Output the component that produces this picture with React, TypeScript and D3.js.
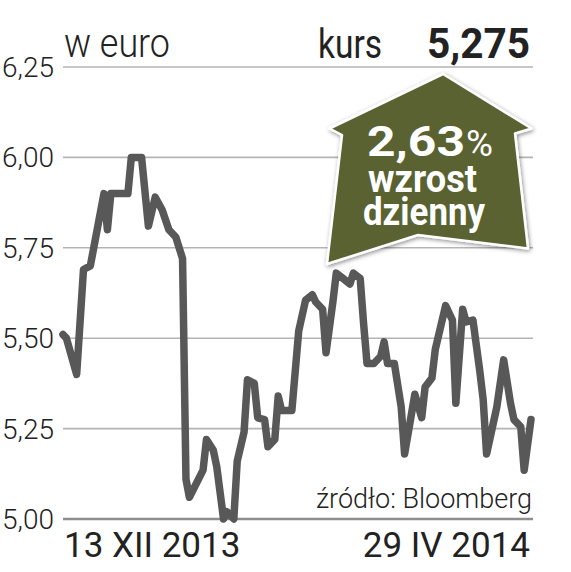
import React from "react";
import * as d3 from "d3";

const dates = ["2013-12-13","2013-12-14","2013-12-17","2013-12-19","2013-12-21","2013-12-25","2013-12-26","2013-12-27","2014-01-01","2014-01-02","2014-01-05","2014-01-07","2014-01-09","2014-01-11","2014-01-13","2014-01-15","2014-01-17","2014-01-18","2014-01-19","2014-01-23","2014-01-24","2014-01-26","2014-01-27","2014-01-29","2014-01-30","2014-02-01","2014-02-02","2014-02-04","2014-02-05","2014-02-07","2014-02-08","2014-02-10","2014-02-11","2014-02-13","2014-02-14","2014-02-15","2014-02-18","2014-02-20","2014-02-22","2014-02-24","2014-02-25","2014-02-27","2014-02-28","2014-03-02","2014-03-03","2014-03-05","2014-03-07","2014-03-08","2014-03-10","2014-03-11","2014-03-12","2014-03-14","2014-03-16","2014-03-17","2014-03-18","2014-03-20","2014-03-22","2014-03-23","2014-03-26","2014-03-28","2014-03-29","2014-03-31","2014-04-01","2014-04-04","2014-04-06","2014-04-07","2014-04-09","2014-04-10","2014-04-12","2014-04-14","2014-04-15","2014-04-16","2014-04-19","2014-04-21","2014-04-23","2014-04-24","2014-04-26","2014-04-27","2014-04-29"];

const prices = [5.51,5.50,5.40,5.69,5.70,5.90,5.80,5.90,5.90,6.00,
6.00,5.81,5.89,5.855,5.80,5.78,5.72,5.11,5.06,5.135,
5.22,5.19,5.145,5.00,5.02,5.00,5.16,5.24,5.385,5.375,
5.28,5.275,5.20,5.22,5.34,5.30,5.30,5.52,5.605,5.62,
5.60,5.58,5.46,5.60,5.68,5.665,5.65,5.68,5.665,5.54,
5.43,5.43,5.45,5.49,5.43,5.43,5.31,5.18,5.345,5.28,
5.365,5.39,5.47,5.59,5.55,5.32,5.58,5.545,5.55,5.41,
5.33,5.18,5.31,5.44,5.32,5.275,5.255,5.135,5.275];

const yTicks = [5.0, 5.25, 5.5, 5.75, 6.0, 6.25];
const startLabel = "13 XII 2013";
const endLabel = "29 IV 2014";
const unitLabel = "w euro";
const kursLabel = "kurs";
const kursValue = "5,275";
const changePct = "2,63";
const changeWords = ["wzrost", "dzienny"];
const sourceLabel = "źródło: Bloomberg";

const W = 571, H = 572;
const left = 63, right = 531, gridRight = 533;
const top = 67, bottom = 519;

export default function App() {
  const parse = d3.utcParse("%Y-%m-%d");
  const data = dates.map((d, i) => ({ date: parse(d) as Date, v: prices[i] }));
  const x = d3.scaleUtc()
    .domain([parse(dates[0]) as Date, parse(dates[dates.length - 1]) as Date])
    .range([left, right]);
  const y = d3.scaleLinear().domain([5, 6.25]).range([bottom, top]);
  const loc = d3.formatLocale({ decimal: ",", thousands: " ", grouping: [3], currency: ["", " zł"] });
  const fmt = loc.format(".2f");
  const line = d3.line<{ date: Date; v: number }>()
    .x(d => x(d.date))
    .y(d => y(d.v));

  const arrowPts: [number, number][] = [
    [443, 74], [531.5, 128.5], [515, 133.5], [528, 248.5], [418, 235],
    [327, 264], [342, 135], [329.5, 128.5],
  ];
  const arrowPath = "M" + arrowPts.map(p => p.join(",")).join("L") + "Z";

  return (
    <svg width={W} height={H} style={{ position: "absolute", left: 0, top: 0, background: "#fff" }}
      fontFamily="Roboto, sans-serif">
      <defs>
        <filter id="sh" x="-20%" y="-20%" width="140%" height="140%">
          <feDropShadow dx="1" dy="1.5" stdDeviation="2" floodColor="#000" floodOpacity="0.45" />
        </filter>
      </defs>
      <rect width={W} height={H} fill="#fff" />
      {yTicks.map(t => (
        <g key={t}>
          <line x1={left} x2={gridRight} y1={y(t)} y2={y(t)}
            stroke={t === 5 ? "#8e8e8e" : "#b4b4b4"} strokeWidth={t === 5 ? 2.5 : 1.6} />
          <text x={54} y={y(t)} dy="0.36em" textAnchor="end" fontSize={28} fontWeight={300} fill="#222">
            {fmt(t)}
          </text>
        </g>
      ))}
      <path d={line(data) || ""} fill="none" stroke="#585858" strokeWidth={7.5}
        strokeLinejoin="round" strokeLinecap="round" />
      <text x={64} y={57} fontSize={40} fontWeight={300} fill="#222" textLength={106} lengthAdjust="spacingAndGlyphs">{unitLabel}</text>
      <text x={318} y={58} fontSize={41} fontWeight={400} fill="#222" textLength={64} lengthAdjust="spacingAndGlyphs">{kursLabel}</text>
      <text x={427} y={58} fontSize={42} fontWeight={700} fill="#222" textLength={103} lengthAdjust="spacingAndGlyphs">{kursValue}</text>
      <g>
        <path d={arrowPath} fill="#5a6230" stroke="#fff" strokeWidth={2.5} strokeLinejoin="round" filter="url(#sh)" />
        <text x={367} y={156} fontSize={42} fontWeight={700} fill="#fff" textLength={98} lengthAdjust="spacingAndGlyphs">{changePct}</text>
        <text x={466} y={156} fontSize={36} fontWeight={400} fill="#fff" textLength={27} lengthAdjust="spacingAndGlyphs">%</text>
        <text x={368} y={192} fontSize={39} fontWeight={700} fill="#fff" textLength={109} lengthAdjust="spacingAndGlyphs">{changeWords[0]}</text>
        <text x={363} y={225} fontSize={39} fontWeight={700} fill="#fff" textLength={122} lengthAdjust="spacingAndGlyphs">{changeWords[1]}</text>
      </g>
      <text x={532} y={508} textAnchor="end" fontSize={27} fontWeight={300} fill="#222">{sourceLabel}</text>
      <text x={64} y={557} fontSize={35} fontWeight={400} fill="#222">{startLabel}</text>
      <text x={530} y={557} textAnchor="end" fontSize={35} fontWeight={400} fill="#222">{endLabel}</text>
    </svg>
  );
}
